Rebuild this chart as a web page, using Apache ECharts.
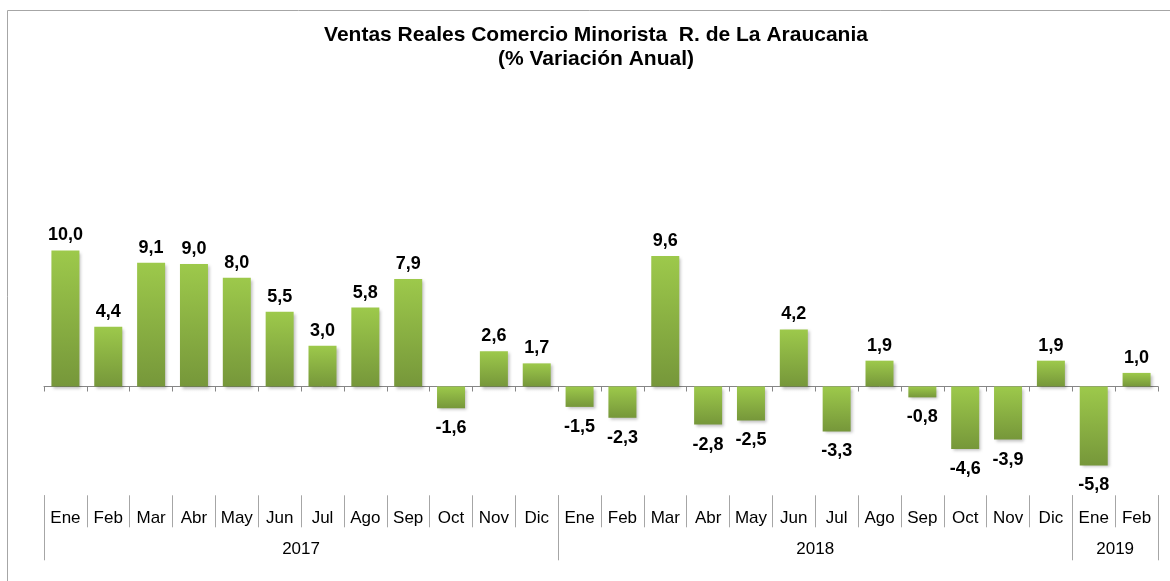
<!DOCTYPE html>
<html>
<head>
<meta charset="utf-8">
<script src="https://cdn.jsdelivr.net/npm/echarts@6/dist/echarts.min.js"></script>
<style>
html,body{margin:0;padding:0;background:#fff;}
#c{width:1170px;height:581px;}
</style>
</head>
<body>
<div id="c"></div>
<script>
var months = ['Ene','Feb','Mar','Abr','May','Jun','Jul','Ago','Sep','Oct','Nov','Dic',
              'Ene','Feb','Mar','Abr','May','Jun','Jul','Ago','Sep','Oct','Nov','Dic',
              'Ene','Feb'];
var values = [10.0,4.4,9.1,9.0,8.0,5.5,3.0,5.8,7.9,-1.6,2.6,1.7,
              -1.5,-2.3,9.6,-2.8,-2.5,4.2,-3.3,1.9,-0.8,-4.6,-3.9,1.9,
              -5.8,1.0];
var years = ['2017','2018','2019'];
var yearCounts = [12,12,2];

var font = '"Liberation Sans", Arial, sans-serif';

// group boundaries and centres from counts
var bounds = [0], centers = [];
yearCounts.forEach(function (n) {
  var s = bounds[bounds.length - 1];
  centers.push(s + n / 2);
  bounds.push(s + n);
});

var barData = values.map(function (v) {
  return { value: v, label: { position: v < 0 ? 'bottom' : 'top', distance: v < 0 ? 11 : 6 } };
});

var chart = echarts.init(document.getElementById('c'), null, { renderer: 'canvas' });
chart.setOption({
  animation: false,
  backgroundColor: '#ffffff',
  graphic: [{
    type: 'rect',
    shape: { x: 7.5, y: 10.5, width: 1300, height: 700 },
    style: { fill: 'none', stroke: '#a6a6a6', lineWidth: 1 },
    silent: true
  }],
  title: {
    text: 'Ventas Reales Comercio Minorista  R. de La Araucania\n(% Variación Anual)',
    left: 596,
    top: 18,
    textAlign: 'center',
    padding: [5, 0],
    textStyle: { fontFamily: font, fontSize: 21, fontWeight: 'bold', color: '#000', lineHeight: 24 }
  },
  grid: {
    left: 44, right: 12, top: 141.7, bottom: 85.7,
    outerBoundsMode: 'none'
  },
  xAxis: [{
    type: 'category',
    data: months,
    position: 'bottom',
    axisLine: { onZero: true, lineStyle: { color: '#868686', width: 1 } },
    axisTick: { show: true, interval: 0, length: 5, lineStyle: { color: '#868686' } },
    axisLabel: { show: false },
    splitLine: { show: false }
  }, {
    type: 'category',
    data: months,
    position: 'bottom',
    axisLine: { show: false, onZero: false },
    axisTick: { show: true, interval: 0, length: 32, lineStyle: { color: '#a6a6a6' } },
    axisLabel: { show: true, interval: 0, margin: 15, fontFamily: font, fontSize: 17, color: '#000' },
    splitLine: { show: false }
  }, {
    type: 'value',
    min: 0,
    max: months.length,
    position: 'bottom',
    axisLine: { show: false, onZero: false },
    axisTick: { show: true, length: 65, customValues: bounds, lineStyle: { color: '#a6a6a6' } },
    axisLabel: {
      show: true, margin: 46, customValues: centers,
      fontFamily: font, fontSize: 17, color: '#000',
      showMinLabel: true, showMaxLabel: true,
      formatter: function (v) {
        var i = centers.indexOf(v);
        return i >= 0 ? years[i] : '';
      }
    },
    splitLine: { show: false }
  }],
  yAxis: {
    type: 'value',
    min: -8,
    max: 18,
    show: false,
    splitLine: { show: false }
  },
  series: [{
    type: 'bar',
    xAxisIndex: 0,
    yAxisIndex: 0,
    data: barData,
    barWidth: 28,
    itemStyle: {
      color: new echarts.graphic.LinearGradient(0, 0, 0, 1, [
        { offset: 0, color: '#9dc94b' },
        { offset: 1, color: '#76973a' }
      ]),
      shadowColor: 'rgba(0,0,0,0.25)',
      shadowBlur: 3,
      shadowOffsetX: 2,
      shadowOffsetY: 2
    },
    label: {
      show: true,
      fontFamily: font,
      fontSize: 18,
      fontWeight: 'bold',
      color: '#000',
      formatter: function (p) { return p.value.toFixed(1).replace('.', ','); }
    }
  }]
});
</script>
</body>
</html>
